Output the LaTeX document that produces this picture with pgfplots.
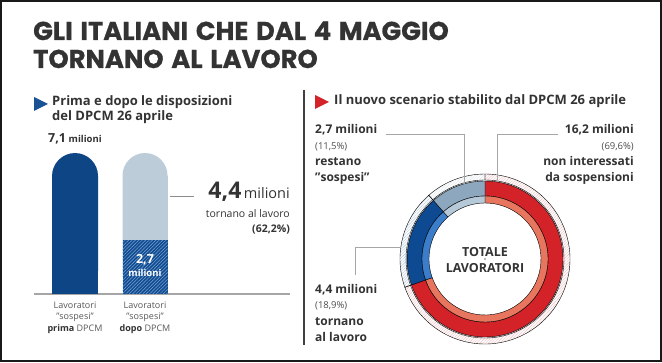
\documentclass[border=0pt]{standalone}
\usepackage{pgfplots}
\pgfplotsset{compat=1.18}
\usepackage{pgfplotstable}
\usetikzlibrary{patterns.meta}
\usepackage{fontspec}
\setmainfont{Open Sans}
\newfontfamily\titlefont{Poppins}[BoldFeatures={FakeBold=0.7}, WordSpace=1.4]
\definecolor{navy}{HTML}{0E4585}
\definecolor{barlight}{HTML}{BDCCD9}
\definecolor{bardark}{HTML}{134C8E}
\definecolor{donutred}{HTML}{D42229}
\definecolor{donutsalmon}{HTML}{E8765F}
\definecolor{donutblue}{HTML}{0D4A92}
\definecolor{donutlblue}{HTML}{3B7DCA}
\definecolor{donutgray}{HTML}{8DA8BE}
\definecolor{donutlgray}{HTML}{B6C9D8}
\definecolor{txt}{HTML}{333333}
\definecolor{tri}{HTML}{1A5296}
\definecolor{redtri}{HTML}{D42229}

\pgfplotstableread{
pos val
0 7.1
}\barprima
\pgfplotstableread{
pos val
1 7.1
}\bardopo
\pgfplotstableread{
pos val
1 2.7
}\bardoposospesi
\pgfplotstableread{
pct cum idx
69.6 0 0
18.9 69.6 1
11.5 88.5 2
}\donutdata

\begin{document}
\begin{tikzpicture}[x=1pt,y=1pt]
\fill[white] (0,0) rectangle (662,362);

% title
\node[anchor=base west, inner sep=0pt, text=txt] at (33,322) {\titlefont\bfseries\fontsize{25.8}{28}\selectfont GLI ITALIANI CHE DAL 4 MAGGIO};
\node[anchor=base west, inner sep=0pt, text=txt] at (33,294) {\titlefont\bfseries\fontsize{25.8}{28}\selectfont TORNANO AL LAVORO};

% subtitles
\fill[tri] (34,265) -- (34,251) -- (48,258) -- cycle;
\node[anchor=base west, inner sep=0pt, text=txt] at (52,256) {\bfseries\fontsize{13}{14}\selectfont Prima e dopo le disposizioni};
\node[anchor=base west, inner sep=0pt, text=txt] at (52,241) {\bfseries\fontsize{13}{14}\selectfont del DPCM 26 aprile};
\fill[redtri] (315,267) -- (315,253) -- (329,260) -- cycle;
\node[anchor=base west, inner sep=0pt, text=txt] at (334,257) {\bfseries\fontsize{13}{14}\selectfont Il nuovo scenario stabilito dal DPCM 26 aprile};

% divider
\draw[line width=1.2pt, color=black!75] (304,272) -- (304,17);

% bars
\begin{axis}[
  at={(34pt,68pt)}, anchor=south west,
  scale only axis, width=256pt, height=164pt,
  xmin=-0.586, xmax=3.071, ymin=0, ymax=8.26,
  axis x line=bottom, axis y line=none,
  x axis line style={-, line width=1.5pt, color=black!35},
  xtick=\empty, ytick=\empty,
  clip=true,
]
\addplot[ybar, bar width=46pt, bar shift=0pt, fill=navy, draw=none, rounded corners=23pt] table[x=pos,y=val] {\barprima};
\addplot[ybar, bar width=46pt, bar shift=0pt, fill=navy, draw=none, yshift=-23pt] table[x=pos,y=val] {\barprima};
\addplot[ybar, bar width=45pt, bar shift=0pt, fill=barlight, draw=none, rounded corners=22.5pt] table[x=pos,y=val] {\bardopo};
\addplot[ybar, bar width=45pt, bar shift=0pt, fill=barlight, draw=none, yshift=-22.5pt] table[x=pos,y=val] {\bardopo};
\addplot[ybar, bar width=45pt, bar shift=0pt, fill=bardark, draw=none,
  postaction={pattern={Lines[angle=45,distance=2.4pt,line width=0.5pt]}, pattern color=donutlblue!70}] table[x=pos,y=val] {\bardoposospesi};
\end{axis}

% donut
\begin{axis}[
  at={(485pt,103pt)}, anchor=center,
  scale only axis, width=10pt, height=10pt,
  xmin=-1, xmax=1, ymin=-1, ymax=1,
  hide axis, clip=false,
]
\addplot[scatter, only marks, mark=*, mark size=0.01pt,
  mark options={draw=none, fill=none},
  point meta=\thisrow{pct},
  visualization depends on={\thisrow{pct} \as \pct},
  visualization depends on={\thisrow{cum} \as \cum},
  visualization depends on={\thisrow{idx} \as \idx},
  scatter/@pre marker code/.code={%
    \pgfmathsetmacro\sa{90-3.6*\cum}%
    \pgfmathsetmacro\ea{90-3.6*(\cum+\pct)}%
    \pgfmathtruncatemacro\k{\idx}%
    \ifcase\k \def\colout{donutred}\def\colin{donutsalmon}%
    \or \def\colout{donutblue}\def\colin{donutlblue}%
    \else \def\colout{donutgray}\def\colin{donutlgray}\fi
    \fill[fill=\colout] (\sa:78pt) arc[start angle=\sa, end angle=\ea, radius=78pt] -- (\ea:63pt) arc[start angle=\ea, end angle=\sa, radius=63pt] -- cycle;
    \fill[fill=\colin] (\sa:63pt) arc[start angle=\sa, end angle=\ea, radius=63pt] -- (\ea:56pt) arc[start angle=\ea, end angle=\sa, radius=56pt] -- cycle;
    \fill[pattern={Lines[angle=45,distance=2pt,line width=0.4pt]}, pattern color=\colout!30] (\sa:79pt) arc[start angle=\sa, end angle=\ea, radius=79pt] -- (\ea:85pt) arc[start angle=\ea, end angle=\sa, radius=85pt] -- cycle;
  },
  scatter/@post marker code/.code={},
] table[x expr=0, y expr=0] {\donutdata};
\end{axis}

% left labels
\node[anchor=base, inner sep=0pt, text=txt] at (75,219) {{\bfseries\fontsize{12.5}{15}\selectfont 7,1} {\bfseries\fontsize{9.5}{12}\selectfont milioni}};
\node[anchor=base, inner sep=0pt, text=white] at (145,99) {\bfseries\fontsize{12.5}{15}\selectfont 2,7};
\node[anchor=base, inner sep=0pt, text=white] at (145,85) {\bfseries\fontsize{9.5}{12}\selectfont milioni};
\draw[line width=1pt, color=black!45] (170,165) -- (194,165);
\node[anchor=base east, inner sep=0pt, text=txt] at (290,163) {{\bfseries\fontsize{23}{24}\selectfont 4,4} {\fontsize{14.5}{16}\selectfont milioni}};
\node[anchor=base east, inner sep=0pt, text=txt] at (290,144) {\fontsize{10.5}{13}\selectfont tornano al lavoro};
\node[anchor=base east, inner sep=0pt, text=txt] at (290,129) {\bfseries\fontsize{10.5}{13}\selectfont (62,2\%)};

\foreach \cx/\w in {75/prima,145/dopo} {
  \node[anchor=base, inner sep=0pt, text=black!65] at (\cx,53) {\fontsize{9}{11}\selectfont Lavoratori};
  \node[anchor=base, inner sep=0pt, text=black!65] at (\cx,42) {\fontsize{9}{11}\selectfont "sospesi"};
  \node[anchor=base, inner sep=0pt, text=black!65] at (\cx,31) {\fontsize{9}{11}\selectfont {\bfseries\color{txt}\w} DPCM};
}

% right labels
\node[anchor=base west, inner sep=0pt, text=txt] at (315,228) {\bfseries\fontsize{12}{15}\selectfont 2,7 milioni};
\node[anchor=base west, inner sep=0pt, text=black!70] at (315,212) {\fontsize{9.5}{12}\selectfont (11,5\%)};
\node[anchor=base west, inner sep=0pt, text=txt] at (315,196) {\bfseries\fontsize{12}{14}\selectfont restano};
\node[anchor=base west, inner sep=0pt, text=txt] at (315,180) {\bfseries\fontsize{12}{14}\selectfont "sospesi"};

\node[anchor=base east, inner sep=0pt, text=txt] at (634,228) {\bfseries\fontsize{12}{15}\selectfont 16,2 milioni};
\node[anchor=base east, inner sep=0pt, text=black!70] at (634,212) {\fontsize{9.5}{12}\selectfont (69,6\%)};
\node[anchor=base east, inner sep=0pt, text=txt] at (634,196) {\bfseries\fontsize{12}{14}\selectfont non interessati};
\node[anchor=base east, inner sep=0pt, text=txt] at (634,180) {\bfseries\fontsize{12}{14}\selectfont da sospensioni};

\node[anchor=base west, inner sep=0pt, text=txt] at (315,69) {\bfseries\fontsize{12}{15}\selectfont 4,4 milioni};
\node[anchor=base west, inner sep=0pt, text=black!70] at (315,53) {\fontsize{9.5}{12}\selectfont (18,9\%)};
\node[anchor=base west, inner sep=0pt, text=txt] at (315,37) {\bfseries\fontsize{12}{14}\selectfont tornano};
\node[anchor=base west, inner sep=0pt, text=txt] at (315,21) {\bfseries\fontsize{12}{14}\selectfont al lavoro};

\draw[line width=1pt, color=black!35] (386,227) -- (464,227) -- (464,177);
\draw[line width=1pt, color=black!35] (558,227) -- (497,227) -- (497,182);
\draw[line width=1pt, color=black!35] (400,114) -- (355,114) -- (355,87);

\node[anchor=base, inner sep=0pt, text=black!80] at (485,106) {\bfseries\fontsize{12.5}{15}\selectfont TOTALE};
\node[anchor=base, inner sep=0pt, text=black!80] at (485,89) {\bfseries\fontsize{12.5}{15}\selectfont LAVORATORI};

% frame
\draw[line width=2pt, color=black!90] (1,1) rectangle (661,361);
\pgfresetboundingbox
\useasboundingbox (0,0) rectangle (662,362);
\end{tikzpicture}
\end{document}
